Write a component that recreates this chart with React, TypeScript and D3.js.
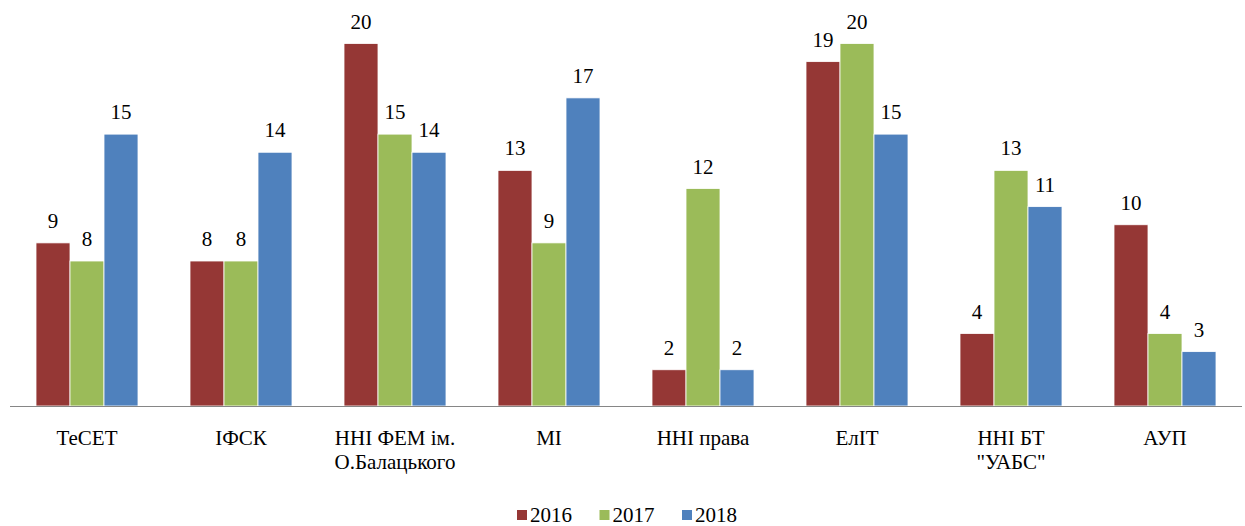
import React, { useRef, useEffect } from 'react';
import * as d3 from 'd3';

const categories = [
  ['ТеСЕТ'],
  ['ІФСК'],
  ['ННІ ФЕМ ім.', 'О.Балацького'],
  ['МІ'],
  ['ННІ права'],
  ['ЕлІТ'],
  ['ННІ БТ', '"УАБС"'],
  ['АУП'],
];
const years = ['2016', '2017', '2018'];
const v2016 = [9, 8, 20, 13, 2, 19, 4, 10];
const v2017 = [8, 8, 15, 9, 12, 20, 13, 4];
const v2018 = [15, 14, 14, 17, 2, 15, 11, 3];
const colors = ['#953735', '#9BBB59', '#4F81BD'];

const W = 1245;
const H = 526;
const font = 'Liberation Serif';

export default function App() {
  const svgRef = useRef(null);

  useEffect(() => {
    const svg = d3.select(svgRef.current);
    svg.selectAll('*').remove();
    const series = [v2016, v2017, v2018];

    const x0 = d3.scaleBand().domain(d3.range(categories.length)).range([10, 1242]);
    const x1 = d3.scaleBand().domain(years).range([26, x0.bandwidth() - 26]);
    const y = d3.scaleLinear().domain([0, 20]).range([406, 43.5]);

    const group = svg.selectAll('.grp')
      .data(categories)
      .enter().append('g')
      .attr('transform', (d, i) => `translate(${x0(i)},0)`);

    group.each(function (cat, i) {
      const g = d3.select(this);
      years.forEach((yr, s) => {
        const v = series[s][i];
        g.append('rect')
          .attr('x', x1(yr))
          .attr('y', y(v))
          .attr('width', x1.bandwidth())
          .attr('height', y(0) - y(v))
          .attr('fill', colors[s])
          .attr('stroke', '#fff')
          .attr('stroke-width', 0.8);
        g.append('text')
          .attr('x', x1(yr) + x1.bandwidth() / 2)
          .attr('y', y(v) - 15)
          .attr('text-anchor', 'middle')
          .attr('font-family', font)
          .attr('font-size', 21)
          .text(v);
      });
      cat.forEach((line, k) => {
        g.append('text')
          .attr('x', x0.bandwidth() / 2)
          .attr('y', 445 + k * 24)
          .attr('text-anchor', 'middle')
          .attr('font-family', font)
          .attr('font-size', 21)
          .text(line);
      });
    });

    svg.append('line')
      .attr('x1', 10).attr('x2', 1242)
      .attr('y1', 406.5).attr('y2', 406.5)
      .attr('stroke', '#868686');

    const legend = svg.selectAll('.leg')
      .data(years)
      .enter().append('g')
      .attr('transform', (d, s) => `translate(${517 + s * 82.5},0)`);
    legend.append('rect')
      .attr('y', 510).attr('width', 10).attr('height', 10)
      .attr('fill', (d, s) => colors[s]);
    legend.append('text')
      .attr('x', 13).attr('y', 522)
      .attr('font-family', font)
      .attr('font-size', 21)
      .text(d => d);
  }, []);

  return (
    <svg ref={svgRef} width={W} height={H} style={{ position: 'absolute', left: 0, top: 0, background: '#fff' }}></svg>
  );
}
